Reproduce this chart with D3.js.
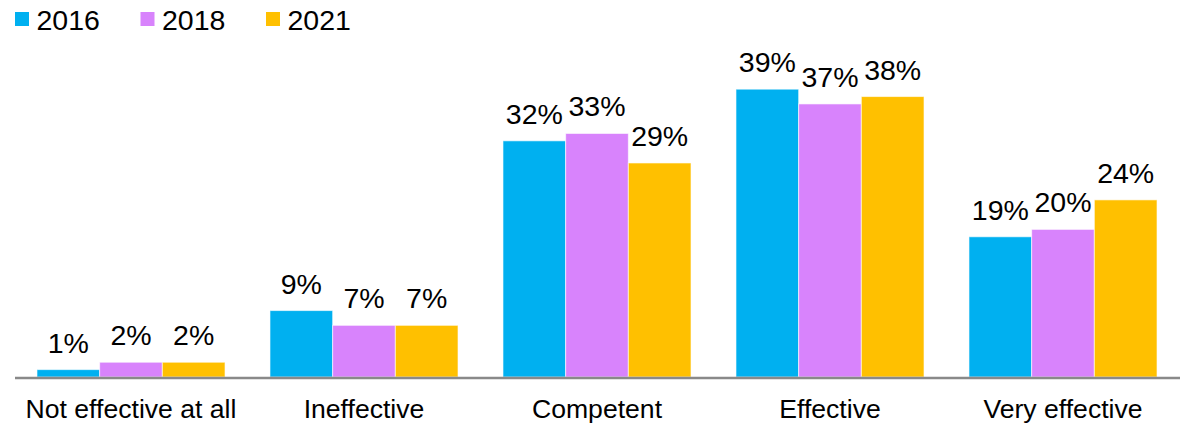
<!DOCTYPE html>
<html>
<head>
<meta charset="utf-8">
<script src="https://cdn.jsdelivr.net/npm/d3@7"></script>
<style>
  html, body { margin: 0; padding: 0; background: #fff; }
  svg { display: block; font-family: Arial, "Liberation Sans", sans-serif; }
</style>
</head>
<body>
<svg id="chart" width="1183" height="426"></svg>
<script>
const categories = ["Not effective at all", "Ineffective", "Competent", "Effective", "Very effective"];
const years = ["2016", "2018", "2021"];
const values2016 = [1, 9, 32, 39, 19];
const values2018 = [2, 7, 33, 37, 20];
const values2021 = [2, 7, 29, 38, 24];
const colors = ["#00B0F0", "#D883FC", "#FFC000"];

const seriesValues = [values2016, values2018, values2021];
const rows = categories.map((c, i) => ({
  category: c,
  values: years.map((y, k) => ({ year: y, value: seriesValues[k][i], color: colors[k] }))
}));

const svg = d3.select("#chart");
const baseline = 377;

const x0 = d3.scaleBand()
  .domain(categories)
  .range([14.5, 1179.5])
  .paddingInner(0.193)
  .paddingOuter(0.0965);

const x1 = d3.scaleBand()
  .domain(years)
  .range([0, x0.bandwidth()])
  .padding(0);

const y = d3.scaleLinear()
  .domain([0, 40])
  .range([baseline, baseline - 295.2]);

// Bars and value labels
const groups = svg.append("g").selectAll("g")
  .data(rows)
  .join("g")
  .attr("transform", d => `translate(${x0(d.category)},0)`);

groups.selectAll("rect")
  .data(d => d.values)
  .join("rect")
  .attr("x", d => x1(d.year))
  .attr("y", d => y(d.value))
  .attr("width", x1.bandwidth())
  .attr("height", d => baseline - y(d.value))
  .attr("fill", d => d.color)
  .attr("stroke", "rgba(255,255,255,0.6)")
  .attr("stroke-width", 1);

groups.selectAll("text")
  .data(d => d.values)
  .join("text")
  .attr("x", d => x1(d.year) + x1.bandwidth() / 2)
  .attr("y", d => y(d.value) - 17)
  .attr("text-anchor", "middle")
  .attr("font-size", 28.5)
  .attr("fill", "#000")
  .text(d => d.value + "%");

// Category axis
const xAxis = d3.axisBottom(x0).tickSize(0).tickPadding(0);
const axisG = svg.append("g")
  .attr("transform", `translate(0,${baseline + 1})`)
  .call(xAxis);
axisG.select(".domain")
  .attr("d", "M15,0H1180")
  .attr("stroke", "#898989")
  .attr("stroke-width", 2.5);
axisG.selectAll(".tick text")
  .attr("y", 40)
  .attr("dy", 0)
  .attr("font-size", 26.6)
  .attr("font-family", "Arial, 'Liberation Sans', sans-serif")
  .attr("fill", "#000");

// Legend
const legend = svg.append("g").selectAll("g")
  .data(years)
  .join("g")
  .attr("transform", (d, i) => `translate(${15 + i * 125.5},0)`);

legend.append("rect")
  .attr("x", 0)
  .attr("y", 12)
  .attr("width", 14)
  .attr("height", 14)
  .attr("fill", (d, i) => colors[i]);

legend.append("text")
  .attr("x", 21.5)
  .attr("y", 29.5)
  .attr("font-size", 28.5)
  .attr("fill", "#000")
  .text(d => d);
</script>
</body>
</html>
